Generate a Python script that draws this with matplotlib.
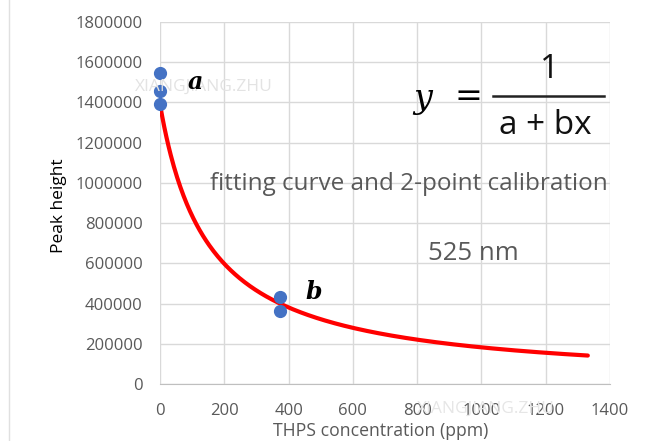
import numpy as np
import matplotlib
matplotlib.use("Agg")
import matplotlib.pyplot as plt
from matplotlib.lines import Line2D

plt.rcParams["font.family"] = ["Open Sans", "DejaVu Sans"]

# Calibration measurements (ppm, peak height)
conc_a = [0, 0, 0]
peak_a = [1545000, 1455000, 1390000]
conc_b = [373, 373]
peak_b = [431000, 365000]

# Fitted hyperbola y = 1 / (a + b x)
fit_a = 7.19e-7
fit_b = 4.77e-9
fit_x_max = 1331

x_ticks = [0, 200, 400, 600, 800, 1000, 1200, 1400]
y_ticks = [0, 200000, 400000, 600000, 800000, 1000000, 1200000, 1400000, 1600000, 1800000]

TXT = "#595959"
GRID = "#d9d9d9"

fig = plt.figure(figsize=(6.48, 4.41), dpi=100)
ax = fig.add_axes([160 / 648, 1 - 384 / 441, 450 / 648, 362 / 441])

xs = np.linspace(0, fit_x_max, 400)
ax.plot(xs, 1.0 / (fit_a + fit_b * xs), color="#ff0000", lw=3, zorder=3, solid_capstyle="round")
ax.plot(conc_a, peak_a, "o", color="#4472c4", ms=8.5, zorder=4, clip_on=False)
ax.plot(conc_b, peak_b, "o", color="#4472c4", ms=8.5, zorder=4, clip_on=False)

ax.set_xlim(0, 1400)
ax.set_ylim(0, 1800000)
ax.set_xticks(x_ticks)
ax.set_yticks(y_ticks)
ax.set_xticklabels([str(v) for v in x_ticks])
ax.set_yticklabels([str(v) for v in y_ticks])
ax.tick_params(length=0, colors=TXT, labelsize=12)
ax.tick_params(axis="y", pad=12.5)
ax.tick_params(axis="x", pad=14)
ax.grid(True, color=GRID, lw=1)
ax.set_axisbelow(True)
for side in ["top", "right", "left"]:
    ax.spines[side].set_visible(False)
ax.spines["bottom"].set_color("#bfbfbf")


# annotations in figure pixel coordinates
def fx(px):
    return px / 648


def fy(py):
    return 1 - py / 441


fig.text(fx(59), fy(206), "Peak height", fontsize=12.5, color="black",
         rotation=90, ha="center", va="center")
fig.text(fx(381), fy(431), "THPS concentration (ppm)", fontsize=12.7, color=TXT,
         ha="center", va="center")

# watermarks
fig.text(fx(204), fy(87), "XIANGJIANG.ZHU", fontsize=12.5, color="#e3e3e3",
         ha="center", va="center", zorder=0)
fig.text(fx(486), fy(409), "XIANGJIANG.ZHU", fontsize=12.5, color="#e6e6e6",
         ha="center", va="center", zorder=0)

fig.text(fx(195), fy(82), "a", fontsize=17, family="DejaVu Serif", style="italic",
         weight="bold", ha="center", va="center")
fig.text(fx(314), fy(292), "b", fontsize=17, family="DejaVu Serif", style="italic",
         weight="bold", ha="center", va="center")

fig.text(fx(409), fy(184), "fitting curve and 2-point calibration", fontsize=17.5,
         color=TXT, ha="center", va="center")
fig.text(fx(473), fy(253), "525 nm", fontsize=18.5, color=TXT, ha="center", va="center")

# formula y = 1 / (a + bx)
fig.text(fx(423), fy(99), "y", fontsize=24, family="DejaVu Serif", style="italic",
         ha="center", va="center")
fig.text(fx(468), fy(97), "=", fontsize=24, family="DejaVu Sans", ha="center", va="center")
fig.add_artist(Line2D([fx(493), fx(604)], [fy(96), fy(96)], color="#222222", lw=1.8))
fig.text(fx(550), fy(70), "1", fontsize=24, ha="center", va="center", color="#111111")
fig.text(fx(545), fy(126), "a + bx", fontsize=24, ha="center", va="center", color="#111111")

# left frame line
fig.add_artist(Line2D([fx(9), fx(9)], [0, 1], color="#e0e0e0", lw=1))

fig.savefig("out.png", dpi=100, facecolor="white")
